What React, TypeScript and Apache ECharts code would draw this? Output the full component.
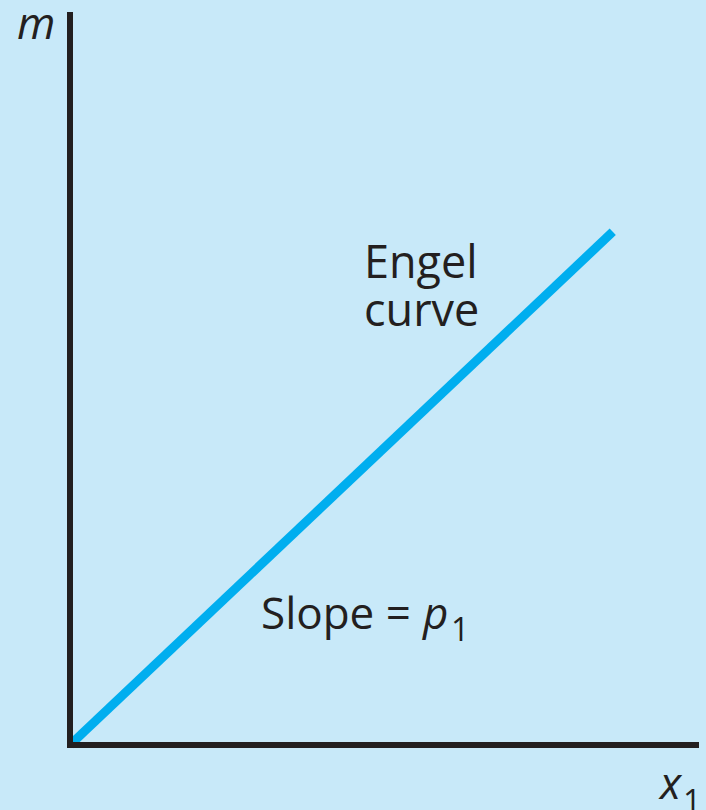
import React, { useEffect, useRef } from "react";
import * as echarts from "echarts";

const xRange = [0, 100];
const yRange = [0, 100];
const engelX = [0, 86.7];
const engelM = [0, 70.3];

export default function App() {
  const ref = useRef<HTMLDivElement>(null);
  useEffect(() => {
    document.body.style.margin = "0";
    const chart = echarts.init(ref.current!, null, { renderer: "svg" });
    const font = "'Open Sans', sans-serif";
    chart.setOption({
      animation: false,
      backgroundColor: "#c8e9f9",
      grid: { left: 70, top: 15, right: 10, bottom: 65 },
      xAxis: {
        type: "value",
        min: xRange[0],
        max: xRange[1],
        z: 5,
        axisLine: { show: true, lineStyle: { color: "#231f20", width: 6, cap: "square" } },
        axisTick: { show: false },
        axisLabel: { show: false },
        splitLine: { show: false },
      },
      yAxis: {
        type: "value",
        min: yRange[0],
        max: yRange[1],
        z: 5,
        axisLine: { show: true, lineStyle: { color: "#231f20", width: 6, cap: "square" } },
        axisTick: { show: false },
        axisLabel: { show: false },
        splitLine: { show: false },
      },
      series: [
        {
          type: "line",
          z: 1,
          data: engelX.map((x, i) => [x, engelM[i]]),
          symbol: "none",
          lineStyle: { color: "#00aeef", width: 9, cap: "butt" },
        },
      ],
      graphic: [
        { type: "text", x: 17, y: 22, style: { text: "m", font: `italic 44px ${font}`, fill: "#231f20", verticalAlign: "middle" } },
        { type: "text", x: 660, y: 782, style: { text: "x", font: `italic 44px ${font}`, fill: "#231f20", verticalAlign: "middle" } },
        { type: "text", x: 683, y: 800, style: { text: "1", font: `32px ${font}`, fill: "#231f20", verticalAlign: "middle" } },
        { type: "text", x: 364, y: 260, style: { text: "Engel", font: `45px ${font}`, fill: "#231f20", verticalAlign: "middle" } },
        { type: "text", x: 364, y: 308, style: { text: "curve", font: `45px ${font}`, fill: "#231f20", verticalAlign: "middle" } },
        { type: "text", x: 261, y: 612, style: { text: "Slope =", font: `44px ${font}`, fill: "#231f20", verticalAlign: "middle" } },
        { type: "text", x: 423, y: 612, style: { text: "p", font: `italic 44px ${font}`, fill: "#231f20", verticalAlign: "middle" } },
        { type: "text", x: 451, y: 628, style: { text: "1", font: `32px ${font}`, fill: "#231f20", verticalAlign: "middle" } },
      ],
    });
    return () => chart.dispose();
  }, []);
  return <div ref={ref} style={{ width: 706, height: 810 }} />;
}
